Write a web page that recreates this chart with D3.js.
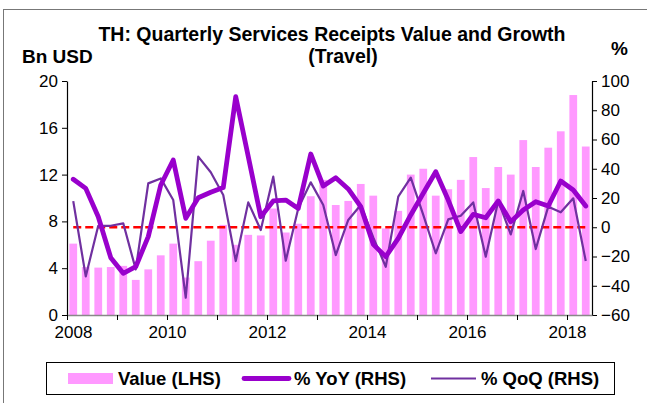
<!DOCTYPE html>
<html>
<head>
<meta charset="utf-8">
<script src="https://cdn.jsdelivr.net/npm/d3@7"></script>
<style>
  body { margin: 0; background: #fff; }
  text { font-family: "Liberation Sans", Arial, sans-serif; fill: #000; }
</style>
</head>
<body>
<div id="chart"></div>
<script>
// Quarters 2008Q1 - 2018Q2
let quarters = [
  "2008Q1","2008Q2","2008Q3","2008Q4","2009Q1","2009Q2","2009Q3","2009Q4",
  "2010Q1","2010Q2","2010Q3","2010Q4","2011Q1","2011Q2","2011Q3","2011Q4",
  "2012Q1","2012Q2","2012Q3","2012Q4","2013Q1","2013Q2","2013Q3","2013Q4",
  "2014Q1","2014Q2","2014Q3","2014Q4","2015Q1","2015Q2","2015Q3","2015Q4",
  "2016Q1","2016Q2","2016Q3","2016Q4","2017Q1","2017Q2","2017Q3","2017Q4",
  "2018Q1","2018Q2"
];

// Value, Bn USD (left axis)
let value = [
  6.1, 4.1, 4.05, 4.1, 4.2, 3.0, 3.9, 5.1,
  6.1, 3.2, 4.6, 6.35, 7.7, 6.0, 6.85, 6.8,
  9.1, 7.05, 7.8, 10.15, 11.55, 9.4, 9.75, 11.2,
  10.2, 7.4, 8.9, 12.0, 12.5, 10.2, 10.75, 11.55,
  13.5, 10.85, 12.65, 12.0, 14.95, 12.65, 14.3, 15.7,
  18.8, 14.4
];

// % YoY (right axis)
let yoy = [
  32.8, 26.6, 7.2, -20.8, -31.5, -27, -6.4, 28.9,
  46, 6.1, 20.2, 23.9, 27.1, 89.3, 48.3, 7.2,
  18, 18.6, 12.9, 50.1, 28.2, 33.9, 26.2, 14.1,
  -11.7, -20.1, -7.6, 8.4, 23.2, 38, 18.6, -3,
  8.8, 6.5, 18, 3.8, 11.8, 17.5, 14.5, 31.6,
  25.5, 14.5
];

// % QoQ (right axis)
let qoq = [
  17.9, -33.6, 1, 1, 2.7, -28.8, 30, 33.4,
  18.6, -48.2, 48.3, 37.6, 22, -23.1, 17, -1.9,
  34.6, -22.9, 12.9, 30.7, 15.2, -19, 5, 15.2,
  -7, -27, 20.9, 33.9, 8.4, -17.8, 5.4, 7.9,
  17, -20.1, 18, -4.9, 24.8, -14.9, 14.1, 10.2,
  19.8, -23.1
];

// Axis ticks
let leftTicks = [0, 4, 8, 12, 16, 20];
let rightTicks = [-60, -40, -20, 0, 20, 40, 60, 80, 100];
let yearTicks = ["2008","","2010","","2012","","2014","","2016","","2018"];

let width = 647, height = 403;
let plot = { left: 67, right: 592, top: 81, bottom: 315 };

let svg = d3.select("#chart")
  .append("svg")
  .attr("width", width)
  .attr("height", height);

svg.append("rect").attr("width", width).attr("height", height).attr("fill", "#fff");

// outer frame (only left/top visible in the crop)
svg.append("rect")
  .attr("x", 3.5).attr("y", 9.5)
  .attr("width", 700).attr("height", 500)
  .attr("fill", "none").attr("stroke", "#777").attr("stroke-width", 1);

// Scales
let x = d3.scaleBand()
  .domain(quarters)
  .range([plot.left, plot.right])
  .paddingInner(0).paddingOuter(0);

let xYear = d3.scaleLinear()
  .domain([0, quarters.length])
  .range([plot.left, plot.right]);

let yL = d3.scaleLinear().domain([0, 20]).range([plot.bottom, plot.top]);
let yR = d3.scaleLinear().domain([-60, 100]).range([plot.bottom, plot.top]);

let cx = function (q) { return x(q) + x.bandwidth() / 2; };

// Bars
let barW = x.bandwidth() * 0.62;
svg.append("g")
  .selectAll("rect")
  .data(quarters)
  .enter().append("rect")
  .attr("x", function (d) { return cx(d) - barW / 2; })
  .attr("width", barW)
  .attr("y", function (d, i) { return yL(value[i]); })
  .attr("height", function (d, i) { return yL(0) - yL(value[i]); })
  .attr("fill", "#ff99ff");

// Zero line on the right axis
svg.append("line")
  .attr("x1", cx(quarters[0]))
  .attr("x2", cx(quarters[quarters.length - 1]))
  .attr("y1", yR(0)).attr("y2", yR(0))
  .attr("stroke", "#ff0000")
  .attr("stroke-width", 2.5)
  .attr("stroke-dasharray", "8,4");

// line generator shared by both % series
let pctLine = d3.line()
  .x(function (d, i) { return cx(quarters[i]); })
  .y(function (d) { return yR(d); });

// QoQ line (thin)
svg.append("path")
  .datum(qoq)
  .attr("d", pctLine)
  .attr("fill", "none")
  .attr("stroke", "#7030a0")
  .attr("stroke-width", 2.2)
  .attr("stroke-linejoin", "round");

// YoY line (thick)
svg.append("path")
  .datum(yoy)
  .attr("d", pctLine)
  .attr("fill", "none")
  .attr("stroke", "#9900cc")
  .attr("stroke-width", 4.8)
  .attr("stroke-linejoin", "round")
  .attr("stroke-linecap", "round");

// Axes
let axisLeft = svg.append("g")
  .attr("transform", "translate(" + plot.left + ",0)")
  .call(d3.axisLeft(yL).tickValues(leftTicks).tickSize(5).tickSizeOuter(0).tickPadding(4));

let axisRight = svg.append("g")
  .attr("transform", "translate(" + plot.right + ",0)")
  .call(d3.axisRight(yR).tickValues(rightTicks).tickSize(5).tickSizeOuter(0).tickPadding(4));

let axisBottom = svg.append("g")
  .attr("transform", "translate(0," + plot.bottom + ")")
  .call(d3.axisBottom(xYear)
    .tickValues(d3.range(0, quarters.length, 4))
    .tickFormat(function (d, i) { return yearTicks[i]; })
    .tickSize(5).tickSizeOuter(0).tickPadding(6));

[axisLeft, axisRight].forEach(function (g) {
  g.select(".domain").attr("stroke", "#000").attr("stroke-width", 1.2);
  g.selectAll(".tick line").attr("stroke", "#000");
});
axisBottom.select(".domain").attr("stroke", "#888").attr("stroke-width", 1.5);
axisBottom.selectAll(".tick line").attr("stroke", "#000");

svg.selectAll(".tick text")
  .attr("font-size", 17)
  .attr("font-family", "Liberation Sans, Arial, sans-serif")
  .attr("fill", "#000");

// first year label sits a little right of its tick, clear of the "0"
axisBottom.selectAll(".tick text").filter(function (d, i) { return i === 0; })
  .attr("dx", 6);

// Titles
svg.append("text")
  .attr("x", 332).attr("y", 41)
  .attr("text-anchor", "middle")
  .attr("font-size", 19.5).attr("font-weight", "bold")
  .text("TH: Quarterly Services Receipts Value and Growth");

svg.append("text")
  .attr("x", 343).attr("y", 63)
  .attr("text-anchor", "middle")
  .attr("font-size", 19.5).attr("font-weight", "bold")
  .text("(Travel)");

svg.append("text")
  .attr("x", 22).attr("y", 63)
  .attr("font-size", 19).attr("font-weight", "bold")
  .text("Bn USD");

svg.append("text")
  .attr("x", 611).attr("y", 55)
  .attr("font-size", 19).attr("font-weight", "bold")
  .text("%");

// Legend
let legend = svg.append("g");
legend.append("rect")
  .attr("x", 46.5).attr("y", 362.5)
  .attr("width", 568).attr("height", 32)
  .attr("fill", "#fff").attr("stroke", "#000").attr("stroke-width", 1);

legend.append("rect")
  .attr("x", 68).attr("y", 373).attr("width", 45).attr("height", 11)
  .attr("fill", "#ff99ff");
legend.append("text")
  .attr("x", 118).attr("y", 385)
  .attr("font-size", 18.5).attr("font-weight", "bold")
  .text("Value (LHS)");

legend.append("line")
  .attr("x1", 244).attr("x2", 289).attr("y1", 378.5).attr("y2", 378.5)
  .attr("stroke", "#9900cc").attr("stroke-width", 4.8).attr("stroke-linecap", "round");
legend.append("text")
  .attr("x", 294).attr("y", 385)
  .attr("font-size", 18.5).attr("font-weight", "bold")
  .text("% YoY (RHS)");

legend.append("line")
  .attr("x1", 431).attr("x2", 476).attr("y1", 378.5).attr("y2", 378.5)
  .attr("stroke", "#7030a0").attr("stroke-width", 2.2);
legend.append("text")
  .attr("x", 481).attr("y", 385)
  .attr("font-size", 18.5).attr("font-weight", "bold")
  .text("% QoQ (RHS)");
</script>
</body>
</html>
